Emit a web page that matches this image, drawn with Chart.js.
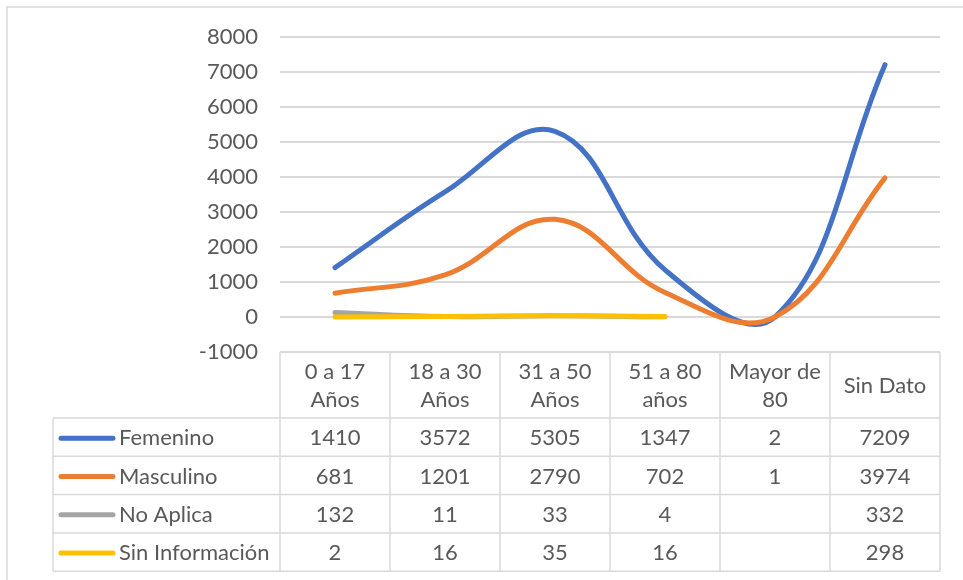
<!DOCTYPE html>
<html>
<head>
<meta charset="utf-8">
<script src="https://cdn.jsdelivr.net/npm/chart.js@4/dist/chart.umd.min.js"></script>
<style>
  html, body { margin: 0; padding: 0; background: #ffffff; }
  #wrap { width: 963px; height: 580px; position: relative; }
</style>
</head>
<body>
<div id="wrap"><canvas id="c" width="963" height="580"></canvas></div>
<script>
// Age groups (two-line headers in the data table)
const categories = [
  ["0 a 17", "Años"],
  ["18 a 30", "Años"],
  ["31 a 50", "Años"],
  ["51 a 80", "años"],
  ["Mayor de", "80"],
  ["Sin Dato"]
];
const seriesNames = ["Femenino", "Masculino", "No Aplica", "Sin Información"];
const femenino = [1410, 3572, 5305, 1347, 2, 7209];
const masculino = [681, 1201, 2790, 702, 1, 3974];
const noAplica = [132, 11, 33, 4, null, 332];
const sinInformacion = [2, 16, 35, 16, null, 298];
const seriesColors = ["#4472C4", "#ED7D31", "#A5A5A5", "#FFC000"];
const yTicks = [-1000, 0, 1000, 2000, 3000, 4000, 5000, 6000, 7000, 8000];

const FONT = "Lato, 'Liberation Sans', sans-serif";
const TEXT = "#595959";
const RULE = "#D9D9D9";

const seriesValues = [femenino, masculino, noAplica, sinInformacion];

// Frame around the whole chart plus the data table under the plot area
const tablePlugin = {
  id: "dataTable",
  beforeDraw(chart) {
    const ctx = chart.ctx;
    ctx.save();
    ctx.strokeStyle = RULE;
    ctx.lineWidth = 1.5;
    ctx.beginPath();
    ctx.moveTo(7, 580);
    ctx.lineTo(7, 7);
    ctx.lineTo(963, 7);
    ctx.stroke();
    ctx.restore();
  },
  afterDraw(chart) {
    const ctx = chart.ctx;
    const x = chart.scales.x;
    const area = chart.chartArea;
    const band = x.getPixelForValue(1) - x.getPixelForValue(0);
    const left = area.left;
    const right = area.right;
    const headTop = area.bottom;
    const headH = 66;
    const rowH = 38.3;
    const keyLeft = 53;
    const rowsTop = headTop + headH;
    const tableBottom = rowsTop + rowH * seriesNames.length;

    ctx.save();
    ctx.strokeStyle = RULE;
    ctx.lineWidth = 1.5;
    ctx.beginPath();
    // header row
    ctx.moveTo(left, headTop); ctx.lineTo(right, headTop);
    // series rows
    for (let r = 0; r <= seriesNames.length; r++) {
      const yy = rowsTop + r * rowH;
      ctx.moveTo(keyLeft, yy); ctx.lineTo(right, yy);
    }
    // column separators
    ctx.moveTo(keyLeft, rowsTop); ctx.lineTo(keyLeft, tableBottom);
    for (let i = 0; i <= categories.length; i++) {
      const cx = x.getPixelForValue(0) - band / 2 + i * band;
      ctx.moveTo(cx, headTop); ctx.lineTo(cx, tableBottom);
    }
    ctx.stroke();

    ctx.fillStyle = TEXT;
    ctx.font = "22px " + FONT;
    ctx.textAlign = "center";
    ctx.textBaseline = "middle";
    categories.forEach((lines, i) => {
      const cx = x.getPixelForValue(i);
      const mid = headTop + headH / 2 + 1;
      const lh = 28;
      lines.forEach((t, k) => {
        ctx.fillText(t, cx, mid + (k - (lines.length - 1) / 2) * lh);
      });
    });

    seriesNames.forEach((name, r) => {
      const cy = rowsTop + r * rowH + rowH / 2 + 1;
      ctx.strokeStyle = seriesColors[r];
      ctx.lineWidth = 5;
      ctx.lineCap = "round";
      ctx.beginPath();
      ctx.moveTo(61, cy); ctx.lineTo(113, cy);
      ctx.stroke();
      ctx.fillStyle = TEXT;
      ctx.textAlign = "left";
      ctx.fillText(name, 119, cy);
      ctx.textAlign = "center";
      seriesValues[r].forEach((v, i) => {
        if (v !== null) ctx.fillText(String(v), x.getPixelForValue(i), cy);
      });
    });
    ctx.restore();
  }
};

new Chart(document.getElementById("c"), {
  type: "line",
  data: {
    labels: categories.map(c => c.join(" ")),
    datasets: seriesNames.map((name, i) => ({
      label: name,
      data: seriesValues[i],
      // later series are painted over earlier ones
      order: seriesNames.length - i,
      borderColor: seriesColors[i],
      backgroundColor: seriesColors[i],
      borderWidth: 5,
      borderCapStyle: "round",
      borderJoinStyle: "round",
      pointRadius: 0,
      pointHoverRadius: 0,
      tension: 0.4,
      spanGaps: false,
      fill: false
    }))
  },
  options: {
    responsive: false,
    animation: false,
    events: [],
    layout: { padding: { left: 0, right: 23, top: 37, bottom: 228 } },
    plugins: { legend: { display: false }, tooltip: { enabled: false } },
    elements: { line: { capBezierPoints: false } },
    scales: {
      x: {
        type: "category",
        offset: true,
        display: false
      },
      y: {
        min: -1000,
        max: 8000,
        afterFit(scale) { scale.width = 280; },
        afterBuildTicks(scale) { scale.ticks = yTicks.map(v => ({ value: v })); },
        border: { display: false },
        grid: { color: RULE, lineWidth: 2, drawTicks: false },
        ticks: {
          padding: 22,
          color: TEXT,
          font: { family: FONT, size: 22 },
          callback: v => String(v)
        }
      }
    }
  },
  plugins: [tablePlugin]
});
</script>
</body>
</html>
